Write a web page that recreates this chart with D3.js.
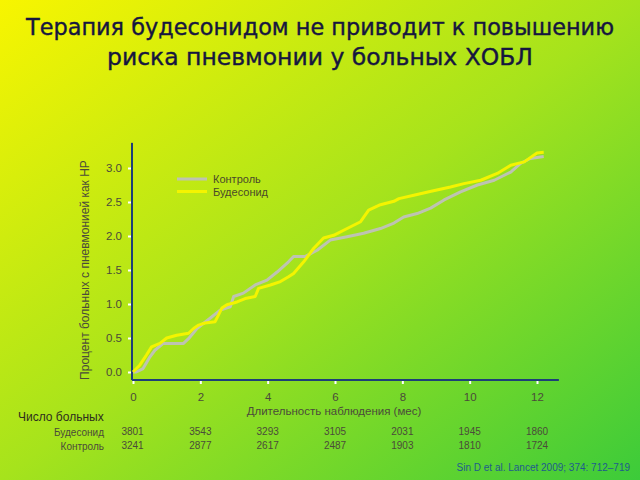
<!DOCTYPE html>
<html><head><meta charset="utf-8">
<script src="https://cdn.jsdelivr.net/npm/d3@7"></script>
<style>body{margin:0;padding:0;overflow:hidden}svg{display:block}</style>
</head><body>
<svg id="c" width="640" height="480"></svg>
<script>
const titleLines = ["Терапия будесонидом не приводит к повышению", "риска пневмонии у больных ХОБЛ"];
const xTicks = [0, 2, 4, 6, 8, 10, 12];
const yTicks = [0.0, 0.5, 1.0, 1.5, 2.0, 2.5, 3.0];
const seriesNames = ["Контроль", "Будесонид"];
const budMonths = [0,0.2,0.4,0.55,0.8,1.0,1.3,1.65,1.8,1.95,2.14,2.44,2.64,2.79,3.09,3.33,3.63,3.73,4.08,4.38,4.62,4.77,5.07,5.37,5.66,5.96,6.36,6.76,7.0,7.35,7.75,7.9,8.34,8.79,9.43,9.83,10.33,10.82,11.22,11.62,12.0,12.2];
const budValues = [0,0.1,0.25,0.37,0.42,0.5,0.54,0.57,0.64,0.69,0.72,0.74,0.94,0.99,1.03,1.08,1.11,1.23,1.28,1.33,1.40,1.45,1.62,1.82,1.97,2.01,2.11,2.21,2.38,2.46,2.51,2.55,2.60,2.65,2.72,2.77,2.82,2.92,3.04,3.09,3.22,3.23];
const ctlMonths = [0,0.1,0.3,0.5,0.65,0.9,1.5,1.65,1.9,2.29,2.59,2.89,2.99,3.28,3.63,3.98,4.28,4.62,4.77,5.12,5.47,5.86,6.36,6.85,7.35,7.75,8.04,8.44,8.84,9.24,9.73,10.23,10.73,11.22,11.52,11.8,12.2];
const ctlValues = [0,0,0.05,0.22,0.32,0.42,0.42,0.49,0.64,0.79,0.91,0.96,1.11,1.16,1.28,1.35,1.47,1.62,1.70,1.70,1.79,1.94,1.99,2.04,2.11,2.19,2.28,2.33,2.41,2.53,2.65,2.75,2.82,2.94,3.07,3.14,3.17];
const atRiskBud = [3801, 3543, 3293, 3105, 2031, 1945, 1860];
const atRiskCtl = [3241, 2877, 2617, 2487, 1903, 1810, 1724];
const xTitle = "Длительность наблюдения (мес)";
const yTitle = "Процент больных с пневмонией как НР";
const riskTitle = "Число больных";
const citation = "Sin D et al. Lancet 2009; 374: 712–719";

const svg = d3.select("#c");
const defs = svg.append("defs");
const g = defs.append("linearGradient").attr("id","bg").attr("x1","0").attr("y1","0").attr("x2","1").attr("y2","1");
g.append("stop").attr("offset","0").attr("stop-color","#f8f500");
g.append("stop").attr("offset","0.5").attr("stop-color","#a6e31c");
g.append("stop").attr("offset","1").attr("stop-color","#3ccb3a");
svg.append("rect").attr("width",640).attr("height",480).attr("fill","url(#bg)");

const tf = "'DejaVu Sans', sans-serif";
svg.selectAll("text.title").data(titleLines).join("text")
  .attr("x",320).attr("y",(d,i)=>35+i*30).attr("text-anchor","middle")
  .attr("font-family",tf).attr("font-size",23).attr("fill","#16163f")
  .attr("stroke","#16163f").attr("stroke-width",0.4)
  .attr("textLength",(d,i)=>i===0?588:426).attr("lengthAdjust","spacingAndGlyphs")
  .text(d=>d);

const x = d3.scaleLinear().domain([0,12]).range([133,537]);
const y = d3.scaleLinear().domain([0,3]).range([372,168]);
const lf = "'Liberation Sans', Arial, sans-serif";
const labCol = "#4b4b3a";

// axes
const xa = svg.append("g").attr("transform",`translate(0,${y(-0.118)})`)
  .call(d3.axisBottom(x).tickValues(xTicks).tickFormat(d3.format("d")).tickSize(4).tickPadding(9));
const ya = svg.append("g").attr("transform",`translate(${x(-0.03)},0)`)
  .call(d3.axisLeft(y).tickValues(yTicks).tickFormat(d3.format(".1f")).tickSize(4).tickPadding(6));
[xa,ya].forEach(a=>{
  a.select(".domain").remove();
  a.selectAll(".tick line").attr("stroke","#ffffff").attr("stroke-width",2);
  a.selectAll(".tick text").attr("fill",labCol).attr("font-family",lf).attr("font-size",11.5);
});
const axCol = "#1d3f78";
svg.append("line").attr("x1",x(-0.03)).attr("x2",x(-0.03)).attr("y1",y(3.37)).attr("y2",y(-0.118))
  .attr("stroke",axCol).attr("stroke-width",2);
svg.append("line").attr("x1",x(-0.03)).attr("x2",x(12.65)).attr("y1",y(-0.118)).attr("y2",y(-0.118))
  .attr("stroke",axCol).attr("stroke-width",2);

// lines
const line = d3.line().x(d=>x(d[0])).y(d=>y(d[1]));
const ctl = ctlMonths.map((m,i)=>[m,ctlValues[i]]);
const bud = budMonths.map((m,i)=>[m,budValues[i]]);
svg.append("path").attr("d",line(ctl)).attr("fill","none").attr("stroke","#bec3b2").attr("stroke-width",3).attr("stroke-linejoin","round");
svg.append("path").attr("d",line(bud)).attr("fill","none").attr("stroke","#f4f400").attr("stroke-width",3).attr("stroke-linejoin","round");

// legend
const legCols = ["#bec3b2","#f4f400"];
seriesNames.forEach((n,i)=>{
  svg.append("line").attr("x1",177).attr("x2",207).attr("y1",179+i*12.5).attr("y2",179+i*12.5)
    .attr("stroke",legCols[i]).attr("stroke-width",3);
  svg.append("text").attr("x",213).attr("y",183+i*12.5).attr("font-family",lf).attr("font-size",11)
    .attr("fill","#4a4a2a").text(n);
});

// axis titles
svg.append("text").attr("x",334).attr("y",415).attr("text-anchor","middle").attr("font-family",lf)
  .attr("font-size",11.5).attr("fill",labCol).text(xTitle);
svg.append("text").attr("transform","translate(89,270) rotate(-90)").attr("text-anchor","middle")
  .attr("font-family",lf).attr("font-size",12).attr("fill",labCol).text(yTitle);

// at risk table
svg.append("text").attr("x",18).attr("y",421).attr("font-family",lf).attr("font-size",12).attr("fill","#2e2e1e").text(riskTitle);
svg.append("text").attr("x",104).attr("y",435.5).attr("text-anchor","end").attr("font-family",lf).attr("font-size",10).attr("fill",labCol).text(seriesNames[1]);
svg.append("text").attr("x",104).attr("y",449.5).attr("text-anchor","end").attr("font-family",lf).attr("font-size",10).attr("fill",labCol).text(seriesNames[0]);
[atRiskBud, atRiskCtl].forEach((row,r)=>{
  svg.selectAll(null).data(row).join("text")
    .attr("x",(d,i)=>i===0?x(0)-0.5:x(xTicks[i])).attr("y",434.5+r*14.5)
    .attr("text-anchor","middle").attr("font-family",lf).attr("font-size",10).attr("fill",labCol).text(d=>d);
});

svg.append("text").attr("x",630).attr("y",471).attr("text-anchor","end").attr("font-family",lf)
  .attr("font-size",10).attr("fill","#1f5c8c").text(citation);
</script>
</body></html>
